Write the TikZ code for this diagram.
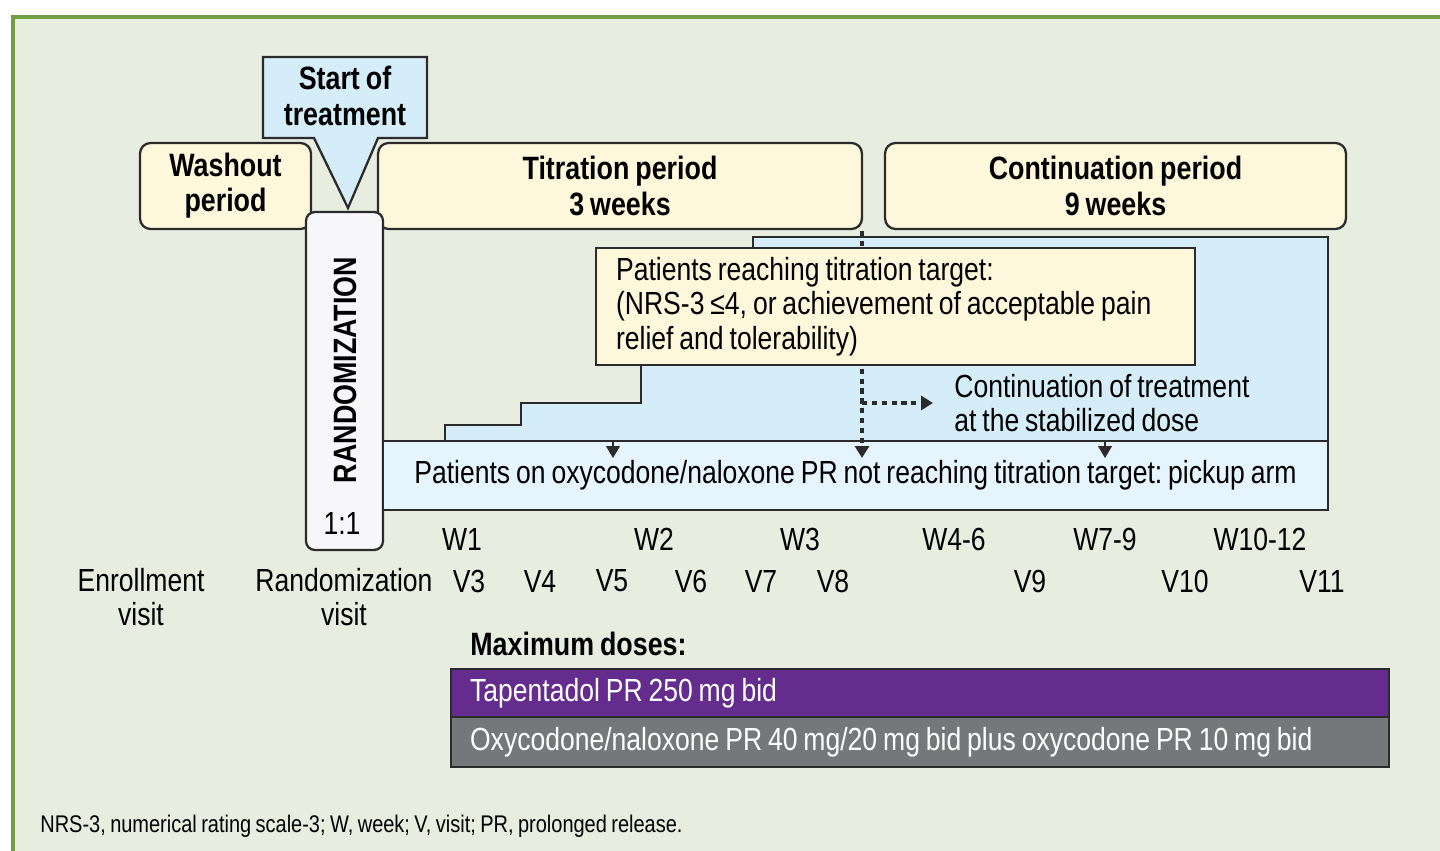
\documentclass[tikz,border=0pt]{standalone}
\usepackage{fontspec}
\setmainfont{Liberation Sans}[FakeStretch=0.83, WordSpace=0.8]
\usetikzlibrary{arrows.meta}
\definecolor{framegreen}{HTML}{6FA043}
\definecolor{bggreen}{HTML}{E7EDDF}
\definecolor{paleyellow}{HTML}{FDF8DB}
\definecolor{paleblue}{HTML}{D5EDF9}
\definecolor{pickblue}{HTML}{E6F5FD}
\definecolor{randwhite}{HTML}{F7F7FA}
\definecolor{dosepurple}{HTML}{642C8D}
\definecolor{dosegray}{HTML}{76777B}
\definecolor{edge}{HTML}{2B2B2B}
\tikzset{
  box/.style={draw=edge, line width=1.3pt, align=center, inner sep=0pt, font=\fontsize{18.2}{19.6}\selectfont},
  kperiod/.style={box, rounded corners=6pt, fill=paleyellow, minimum height=1.72cm, font=\bfseries\fontsize{18.4}{20}\selectfont},
  krand/.style={box, rounded corners=5pt, fill=randwhite, minimum width=1.54cm, minimum height=6.76cm},
  ktarget/.style={box, fill=paleyellow, align=flush left, text width=11.18cm, minimum height=2.34cm, inner xsep=0.4cm},
  kpickup/.style={box, fill=pickblue, minimum width=18.9cm, minimum height=1.38cm},
  kdose/.style={box, text=white, align=flush left, text width=18.0cm, inner xsep=0.38cm},
  klabel/.style={inner sep=0pt, align=center, font=\fontsize{18.2}{19.6}\selectfont},
  flow/.style={-{Triangle[length=2.4mm, width=2.8mm]}, line width=2.2pt, dash pattern=on 3pt off 2.6pt, edge},
  tip/.style={-{Triangle[length=2.4mm, width=2.8mm]}, line width=0.6pt, edge},
}

\begin{document}
\frenchspacing
\begin{tikzpicture}[x=0.02cm, y=-0.02cm]
    \useasboundingbox (0,0) rectangle (1440,851);
    \fill[bggreen] (13,17) rectangle (1440,851);
    \draw[framegreen, line width=2pt] (13,851) -- (13,17) -- (1440,17);
    \fill[paleblue, draw=edge, line width=1.3pt] (445,441) -- (445,425) -- (521,425) -- (521,403) -- (641,403) -- (641,300) -- (753,300) -- (753,237) -- (1328,237) -- (1328,441) -- cycle;
    \node[kperiod, minimum width=3.42cm] (washout) at (225.5,186) {Washout\\period};
    \node[kperiod, minimum width=9.68cm] (titration) at (620,186) {Titration period\\3 weeks};
    \node[kperiod, minimum width=9.22cm] (continuation) at (1115.5,186) {Continuation period\\9 weeks};
    \filldraw[fill=paleblue, draw=edge, line width=1.3pt] (263,57) -- (427,57) -- (427,138) -- (378,138) -- (348,208) -- (314,138) -- (263,138) -- cycle;
    \node[klabel, font=\bfseries\fontsize{18.4}{20}\selectfont] (start) at (345,96) {Start of\\treatment};
    \node[krand] (rand) at (344.5,381) {};
    \node[klabel, rotate=90, font=\bfseries\fontsize{18.4}{20}\selectfont] (randtext) at (345,370) {RANDOMIZATION};
    \node[klabel] (ratio) at (342,523) {1:1};
    \node[kpickup] (pickup) at (855.5,475.5) {Patients on oxycodone/naloxone PR not reaching titration target: pickup arm};
    \coordinate (dtop) at (862,231);
    \coordinate (dbot) at (862,458);
    \coordinate (dmid) at (862,403);
    \coordinate (dright) at (933,403);
    \coordinate (atop) at (613,441);
    \coordinate (abot) at (613,458);
    \coordinate (btop) at (1105,441);
    \coordinate (bbot) at (1105,458);
    \draw[flow] (dtop) -- (dbot);
    \draw[flow] (dmid) -- (dright);
    \draw[tip] (atop) -- (abot);
    \draw[tip] (btop) -- (bbot);
    \node[ktarget] (target) at (895.5,306.5) {Patients reaching titration target:\\(NRS-3 ≤4, or achievement of acceptable pain\\relief and tolerability)};
    \node[klabel, anchor=west, align=left] (stable) at (954,403) {Continuation of treatment\\at the stabilized dose};
    \node[klabel] (w1) at (462,539) {W1};
    \node[klabel] (w2) at (654,539) {W2};
    \node[klabel] (w3) at (800,539) {W3};
    \node[klabel] (w46) at (954,539) {W4-6};
    \node[klabel] (w79) at (1105,539) {W7-9};
    \node[klabel] (w1012) at (1260,539) {W10-12};
    \node[klabel] (v3) at (469,581) {V3};
    \node[klabel] (v4) at (540,581) {V4};
    \node[klabel] (v5) at (612,581) {V5};
    \node[klabel] (v6) at (691,581) {V6};
    \node[klabel] (v7) at (761,581) {V7};
    \node[klabel] (v8) at (833,581) {V8};
    \node[klabel] (v9) at (1030,581) {V9};
    \node[klabel] (v10) at (1185,581) {V10};
    \node[klabel] (v11) at (1322,581) {V11};
    \node[klabel] (enrol) at (141,597) {Enrollment\\visit};
    \node[klabel] (randvisit) at (344,597) {Randomization\\visit};
    \node[klabel, anchor=west, font=\bfseries\fontsize{18.4}{20}\selectfont] (maxdose) at (470,644) {Maximum doses:};
    \node[kdose, fill=dosepurple, minimum height=0.96cm] (tapentadol) at (920,693) {Tapentadol PR 250 mg bid};
    \node[kdose, fill=dosegray, minimum height=1.0cm] (oxycodone) at (920,742) {Oxycodone/naloxone PR 40 mg/20 mg bid plus oxycodone PR 10 mg bid};
    \node[klabel, anchor=west, font=\fontsize{13.7}{15}\selectfont] (note) at (40,826) {NRS-3, numerical rating scale-3; W, week; V, visit; PR, prolonged release.};
  \end{tikzpicture}
\end{document}
